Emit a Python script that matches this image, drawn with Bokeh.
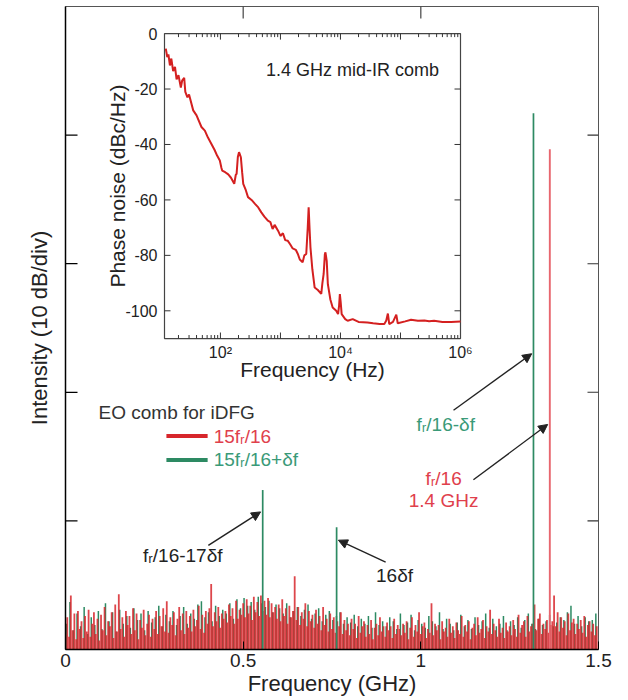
import math
import numpy as np
from bokeh.plotting import figure
from bokeh.models import (Range1d, FixedTicker, LogScale, Arrow,
                          NormalHead, NumeralTickFormatter)
from bokeh.core.properties import value
from bokeh.embed import file_html
from bokeh.resources import INLINE

FONT = "Liberation Sans"

# ---------------- main spectrum data (dB above floor, 10 dB/div) ----------------
red_noise_start, red_noise_step = 0.0, 0.005
red_noise = [
    1.2, 2.5, 1.0, 4.2, 1.5, 2.8, 0.8, 3.0, 1.6, 2.2,
    0.9, 2.6, 1.4, 3.1, 1.0, 2.0, 2.9, 1.2, 2.4, 0.7,
    2.7, 1.5, 3.3, 1.1, 2.2, 1.8, 2.9, 0.9, 3.5, 1.4,
    4.3, 1.6, 2.5, 1.0, 3.0, 1.9, 2.6, 1.2, 3.2, 1.5,
    2.8, 0.8, 2.3, 1.7, 3.1, 1.1, 2.0, 2.7, 1.0, 2.4,
    1.6, 3.0, 1.2, 2.6, 1.8, 3.2, 1.4, 3.75, 1.3, 2.5,
    1.9, 2.9, 1.1, 2.4, 3.3, 1.5, 2.8, 1.2, 3.0, 1.7,
    2.6, 1.4, 3.1, 1.8, 2.3, 3.4, 1.6, 2.7, 1.3, 3.0,
    2.0, 3.2, 5.1, 1.8, 2.9, 2.2, 3.3, 1.7, 2.8, 2.4,
    3.0, 2.1, 3.5, 2.6, 3.2, 2.0, 3.8, 2.4, 3.1, 2.7,
    3.6, 2.5, 3.9, 2.8, 3.4, 2.3, 4.1, 2.9, 3.7, 2.6,
    4.2, 3.0, 3.8, 2.7, 4.0, 2.5, 3.6, 2.9, 3.3, 2.4,
    3.5, 2.2, 3.9, 2.6, 3.2, 2.0, 3.4, 2.5, 3.0, 5.7,
    2.3, 3.3, 1.9, 2.9, 2.4, 3.6, 1.8, 3.0, 2.2, 2.7,
    1.7, 3.1, 2.0, 2.6, 1.5, 3.3, 1.9, 2.4, 1.4, 2.8,
    1.6, 2.5, 1.3, 2.2, 1.8, 2.9, 1.2, 2.3, 1.5, 2.0,
    1.1, 2.4, 1.6, 2.0, 0.9, 2.6, 1.3, 1.8, 2.2, 1.0,
    1.9, 1.2, 2.3, 0.8, 1.7, 2.0, 1.1, 2.5, 1.4, 1.8,
    1.0, 2.1, 1.5, 1.8, 0.9, 2.4, 1.2, 1.9, 1.6, 1.1,
    2.0, 1.3, 2.2, 0.8, 1.7, 2.5, 1.0, 1.9, 1.4, 2.9,
    1.2, 1.8, 2.1, 0.9, 1.6, 1.3, 3.6, 1.1, 2.0, 1.5,
    1.9, 0.8, 2.2, 1.4, 1.7, 1.0, 2.4, 1.3, 1.8, 0.9,
    2.1, 1.5, 1.2, 2.6, 1.0, 1.9, 1.4, 2.2, 0.8, 1.7,
    2.0, 1.1, 2.5, 1.3, 1.6, 2.3, 0.9, 1.8, 1.4, 3.1,
    1.2, 2.0, 1.5, 1.0, 2.4, 1.3, 1.7, 0.9, 2.1, 1.4,
    1.8, 1.1, 2.3, 1.6, 1.0, 2.7, 1.3, 1.9, 2.2, 1.0,
    2.6, 1.4, 1.8, 2.0, 3.5, 1.5, 2.4, 2.8, 1.2, 2.0,
    1.6, 2.3, 1.3, 1.9, 2.2, 4.2, 1.8, 2.9, 1.4, 2.5,
    1.7, 2.2, 1.1, 2.8, 1.5, 2.1, 2.4, 1.2, 2.0, 1.6,
    2.3, 1.3, 2.6, 1.0, 1.9, 2.2, 1.4, 2.0, 1.1, 1.8,
]
green_noise_start, green_noise_step = 0.0025, 0.01
green_noise = [
    2.0, 3.7, 1.5, 2.8, 1.8, 3.3, 1.2, 2.5, 1.9, 3.0,
    1.6, 3.6, 2.2, 2.9, 1.4, 3.1, 2.0, 2.6, 1.7, 3.2,
    2.3, 2.8, 1.5, 3.0, 2.1, 2.5, 3.4, 1.8, 2.7, 2.2,
    3.0, 1.9, 2.6, 3.3, 2.0, 2.8, 2.4, 3.5, 3.75, 2.5,
    2.9, 2.2, 3.4, 2.6, 3.1, 2.8, 3.6, 2.4, 3.9, 3.2,
    4.0, 3.4, 3.7, 3.1, 4.1, 3.6, 3.3, 3.8, 2.9, 3.5,
    3.2, 2.8, 3.6, 2.5, 3.0, 3.3, 2.6, 3.1, 3.5, 2.4,
    2.8, 3.2, 2.2, 2.7, 3.0, 2.3, 2.6, 2.9, 2.0, 2.5,
    2.1, 2.7, 1.8, 2.4, 2.0, 2.6, 1.7, 2.9, 1.9, 2.2,
    1.8, 2.5, 2.2, 1.6, 2.8, 1.9, 2.1, 2.7, 1.5, 2.3,
    2.0, 1.7, 2.6, 2.2, 1.8, 2.9, 1.6, 2.4, 2.0, 1.5,
    2.1, 2.7, 1.8, 2.3, 1.6, 2.5, 1.9, 2.2, 2.8, 1.7,
    2.4, 1.8, 2.0, 2.6, 1.5, 2.2, 1.9, 2.5, 1.7, 2.3,
    2.8, 2.0, 1.6, 2.4, 1.9, 2.2, 2.7, 1.8, 2.1, 2.5,
    2.3, 2.9, 3.4, 2.0, 2.6, 1.8, 2.5, 2.2, 2.3, 2.8,
]
green_peak_freq = [0.555, 0.763, 1.317]   # GHz
green_peak_db = [12.4, 9.5, 41.7]
red_peak_freq = [1.363]
red_peak_db = [38.9]

x_ticks = [0, 0.5, 1, 1.5]
x_top_ticks = [0.5, 1.0]
y_ticks = [10, 20, 30, 40]

# ---------------- inset: phase noise ----------------
pn_freq = [12.3, 13.0, 13.6, 14.4, 15.2, 16.3, 17.5, 18.6, 20.0, 21.9,
           23.0, 24.9, 26.0, 28.2, 30.0, 35.2, 40.0, 48.3, 55.0, 62.0,
           70.8, 80.0, 88.0, 97.7, 104, 107, 120, 135, 150, 170,
           180, 186, 195, 204, 210, 219, 230, 240, 265, 288,
           330, 380, 427, 480, 540, 617, 680, 740, 800, 912,
           1000, 1100, 1200, 1318, 1450, 1600, 1800, 1950, 2100, 2344,
           2500, 2691, 2850, 2951, 3050, 3162, 3400, 3715, 4200, 4786,
           5000, 5248, 5500, 5623, 5900, 6166, 6800, 7413, 8500, 9120,
           9500, 9772, 10100, 10471, 12000, 13183, 16000, 20000, 28184, 35000,
           45000, 53703, 58000, 61660, 65000, 75000, 85114, 90000, 120000, 150000,
           194984, 250000, 300000, 363078, 500000, 700000, 1000000]
pn_db = [-5.4, -8.5, -7.5, -11.5, -9.0, -13.5, -12.0, -16.5, -15.0, -19.5,
         -17.0, -16.0, -21.0, -23.0, -22.0, -27.7, -29.5, -33.7, -35.0, -37.5,
         -39.8, -42.0, -44.0, -45.8, -48.5, -49.4, -50.0, -50.8, -52.0, -54.2,
         -51.0, -50.6, -44.5, -42.8, -43.5, -44.6, -50.0, -54.2, -56.5, -59.0,
         -60.0, -61.5, -62.7, -64.5, -66.0, -67.5, -68.0, -70.5, -69.0, -71.1,
         -73.0, -72.0, -74.5, -74.7, -76.0, -77.5, -78.0, -79.5, -81.5, -82.5,
         -80.0, -79.5, -70.0, -62.7, -70.0, -77.1, -85.0, -91.6, -92.5, -93.9,
         -90.0, -86.7, -79.5, -78.9, -82.0, -90.4, -96.0, -98.8, -100.0, -101.2,
         -98.0, -94.0, -97.0, -101.2, -103.0, -103.6, -103.0, -104.0, -104.2, -104.5,
         -104.8, -104.8, -103.5, -101.0, -104.8, -104.0, -101.4, -104.5, -103.8, -103.2,
         -103.6, -103.5, -103.8, -103.6, -104.0, -104.0, -103.9]
inset_x_min, inset_x_max = 11.7, 1.0e6
inset_y_min, inset_y_max = -110.0, 0.0
inset_decades = [1e2, 1e3, 1e4, 1e5, 1e6]
inset_x_label_pos = [1e2, 1e4, 1e6]
inset_x_labels = ["10²", "10⁴", "10⁶"]
inset_y_ticks = [0, -20, -40, -60, -80, -100]
inset_y_labels = ["0", "-20", "-40", "-60", "-80", "-100"]

# ---------------- colours ----------------
RED = "#d7262b"
RED_TXT = "#e0404c"
RED_PEAK = "#e8666e"
GREEN = "#2d8a63"
GREEN_TXT = "#3a9a78"
DARK = "#222222"

X0, X1, Y0, Y1 = 0.0, 1.5, 0.0, 50.0
FRAME_W, FRAME_H = 533.0, 640.0

# ---------------- figure ----------------
p = figure(width=620, height=698, x_range=Range1d(X0, X1), y_range=Range1d(Y0, Y1),
           output_backend="svg", toolbar_location=None,
           min_border_left=65, min_border_right=22, min_border_top=6, min_border_bottom=0)
p.grid.visible = False
p.outline_line_color = "#555555"
p.outline_line_width = 1
p.background_fill_color = "white"
p.border_fill_color = "white"

xa = p.below[0]
xa.ticker = FixedTicker(ticks=x_ticks)
xa.formatter = NumeralTickFormatter(format="0.[0]")
xa.major_tick_in = 8
xa.major_tick_out = 0
xa.minor_tick_in = 0
xa.minor_tick_out = 0
xa.axis_line_color = "black"
xa.axis_line_width = 1.5
xa.major_label_text_font = FONT
xa.major_label_text_font_size = "19px"
xa.major_label_text_color = DARK
xa.major_label_standoff = 4
xa.axis_label = "Frequency (GHz)"
xa.axis_label_text_font = FONT
xa.axis_label_text_font_size = "22px"
xa.axis_label_text_font_style = "normal"
xa.axis_label_text_color = DARK
xa.axis_label_standoff = 1

ya = p.left[0]
ya.ticker = FixedTicker(ticks=[])
ya.minor_tick_in = 0
ya.minor_tick_out = 0
ya.axis_line_color = "black"
ya.axis_line_width = 1.5
ya.axis_label = "Intensity (10 dB/div)"
ya.axis_label_text_font = FONT
ya.axis_label_text_font_size = "22px"
ya.axis_label_text_font_style = "normal"
ya.axis_label_text_color = DARK
ya.axis_label_standoff = 14

# inward ticks on left / right / top drawn as segments
dx_px = (X1 - X0) / FRAME_W
dy_px = (Y1 - Y0) / FRAME_H
n = len(y_ticks)
p.segment(x0=[X0] * n, y0=y_ticks, x1=[X0 + 12 * dx_px] * n, y1=y_ticks, line_color="black", line_width=1.3)
p.segment(x0=[X1] * n, y0=y_ticks, x1=[X1 - 11 * dx_px] * n, y1=y_ticks, line_color="#333333", line_width=1.1)
m = len(x_top_ticks)
p.segment(x0=x_top_ticks, y0=[Y1] * m, x1=x_top_ticks, y1=[Y1 - 12 * dy_px] * m, line_color="#333333", line_width=1.1)

# ---------------- noise floor ----------------
gx = green_noise_start + green_noise_step * np.arange(len(green_noise))
rx = red_noise_start + red_noise_step * np.arange(len(red_noise))
p.segment(x0=gx, y0=np.zeros(len(gx)), x1=gx, y1=green_noise, line_color=GREEN, line_width=1.5)
p.segment(x0=rx, y0=np.zeros(len(rx)), x1=rx, y1=red_noise, line_color=RED, line_width=1.8,
          line_alpha=0.85)

# peaks
p.segment(x0=green_peak_freq, y0=[0] * len(green_peak_freq), x1=green_peak_freq, y1=green_peak_db,
          line_color=GREEN, line_width=1.7)
p.segment(x0=red_peak_freq, y0=[0] * len(red_peak_freq), x1=red_peak_freq, y1=red_peak_db,
          line_color=RED_PEAK, line_width=1.9)

# ---------------- legend ----------------
def txt(x, y, s, color=DARK, size="19px", align="left", baseline="middle", **kw):
    p.text(x=[x], y=[y], text=[s], text_font=value(FONT), text_font_size=size,
           text_color=color, text_align=align, text_baseline=baseline, **kw)

txt(0.093, 18.4, "EO comb for iDFG", color="#333333")
p.segment(x0=[0.284], y0=[16.6], x1=[0.40], y1=[16.6], line_color=RED, line_width=4)
txt(0.417, 16.6, "15fᵣ/16", color=RED_TXT)
p.segment(x0=[0.284], y0=[14.74], x1=[0.40], y1=[14.74], line_color=GREEN, line_width=4)
txt(0.417, 14.74, "15fᵣ/16+δf", color=GREEN_TXT)

# annotations
txt(1.07, 17.5, "fᵣ/16-δf", color=GREEN_TXT, align="center")
txt(1.064, 13.3, "fᵣ/16", color=RED_TXT, align="center")
txt(1.064, 11.6, "1.4 GHz", color=RED_TXT, align="center")
txt(0.33, 7.33, "fᵣ/16-17δf", color=DARK, align="center")
txt(0.926, 5.77, "16δf", color=DARK, align="center")

for (xs, ys, xe, ye) in [(1.092, 18.6, 1.312, 23.0), (1.148, 13.2, 1.357, 17.5),
                         (0.402, 8.1, 0.549, 10.7), (0.901, 6.8, 0.768, 8.5)]:
    p.add_layout(Arrow(end=NormalHead(size=9, fill_color="#222222", line_color="#222222", line_width=1),
                       x_start=xs, y_start=ys, x_end=xe, y_end=ye,
                       line_color="#222222", line_width=1.4))

# ---------------- inset (drawn in the main frame with extra ranges) ----------------
fx0, fx1 = 99.0 / 533.0, 395.0 / 533.0      # inset box left/right as fraction of frame width
ft, fb = 27.0 / 641.0, 331.0 / 641.0        # inset box top/bottom as fraction from frame top
lo, hi = math.log10(inset_x_min), math.log10(inset_x_max)
span_x = (hi - lo) / (fx1 - fx0)
p.extra_x_ranges = {"ix": Range1d(10 ** (lo - fx0 * span_x), 10 ** (hi + (1 - fx1) * span_x))}
p.extra_x_scales = {"ix": LogScale()}
span_y = (inset_y_max - inset_y_min) / (fb - ft)
p.extra_y_ranges = {"iy": Range1d(inset_y_min - (1 - fb) * span_y, inset_y_max + ft * span_y)}
IR = dict(x_range_name="ix", y_range_name="iy")

px_per_dec = FRAME_W * (fx1 - fx0) / (hi - lo)
db_per_px = (inset_y_max - inset_y_min) / (FRAME_H * (fb - ft))

p.quad(left=[inset_x_min], right=[inset_x_max], bottom=[inset_y_min], top=[inset_y_max],
       fill_color="white", line_color="#444444", line_width=1.2, **IR)

# x ticks (bottom & top, inward)
minor = [mm * d / 10 for d in inset_decades for mm in range(2, 10)]
minor = [v for v in minor if inset_x_min < v < inset_x_max]
maj = [v for v in inset_decades if inset_x_min < v < inset_x_max]
Lmaj, Lmin = 6 * db_per_px, 3.5 * db_per_px
for arr, L in [(maj, Lmaj), (minor, Lmin)]:
    p.segment(x0=arr, y0=[inset_y_min] * len(arr), x1=arr, y1=[inset_y_min + L] * len(arr),
              line_color="#333333", line_width=1, **IR)
    p.segment(x0=arr, y0=[inset_y_max] * len(arr), x1=arr, y1=[inset_y_max - L] * len(arr),
              line_color="#333333", line_width=1, **IR)
# y ticks (left & right, inward)
fac = 10 ** (6.0 / px_per_dec)
yt = [v for v in inset_y_ticks if inset_y_min < v < inset_y_max]
p.segment(x0=[inset_x_min] * len(yt), y0=yt, x1=[inset_x_min * fac] * len(yt), y1=yt,
          line_color="#333333", line_width=1, **IR)
p.segment(x0=[inset_x_max] * len(yt), y0=yt, x1=[inset_x_max / fac] * len(yt), y1=yt,
          line_color="#333333", line_width=1, **IR)

p.line(x=pn_freq, y=pn_db, line_color="#d42020", line_width=2, **IR)

p.text(x=[inset_x_min] * len(inset_y_ticks), y=inset_y_ticks, text=inset_y_labels,
       text_font=value(FONT), text_font_size="16px", text_color=DARK,
       text_align="right", text_baseline="middle", x_offset=-7, **IR)
p.text(x=inset_x_label_pos, y=[inset_y_min] * 3, text=inset_x_labels,
       text_font=value(FONT), text_font_size="16px", text_color=DARK,
       text_align="center", text_baseline="top", y_offset=5, **IR)
mid_x = 10 ** ((lo + hi) / 2)
p.text(x=[mid_x], y=[inset_y_min], text=["Frequency (Hz)"], text_font=value(FONT),
       text_font_size="21px", text_color=DARK, text_align="center", text_baseline="middle",
       y_offset=31, **IR)
p.text(x=[inset_x_min], y=[(inset_y_min + inset_y_max) / 2], text=["Phase noise (dBc/Hz)"],
       text_font=value(FONT), text_font_size="21px", text_color=DARK, text_align="center",
       text_baseline="middle", angle=math.pi / 2, x_offset=-47, **IR)
p.text(x=[15850], y=[-13.0], text=["1.4 GHz mid-IR comb"], text_font=value(FONT),
       text_font_size="18px", text_color=DARK, text_align="center", text_baseline="middle", **IR)

open("out.html", "w").write(file_html(p, INLINE))
